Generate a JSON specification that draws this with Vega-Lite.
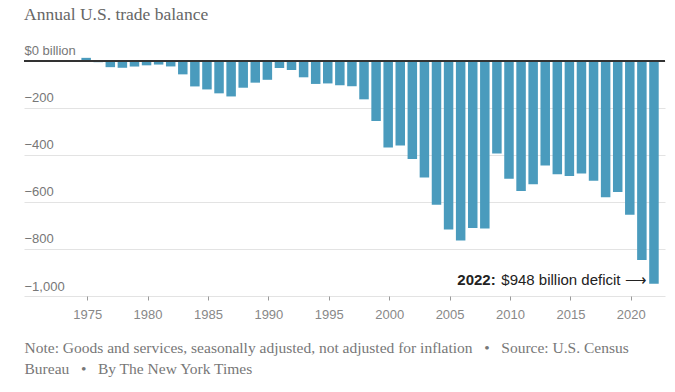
{
  "$schema": "https://vega.github.io/schema/vega-lite/v6.json",
  "width": 641,
  "height": 247,
  "autosize": "none",
  "padding": {"left": 24, "top": 49, "right": 10, "bottom": 96},
  "background": "white",
  "title": {
    "text": "Annual U.S. trade balance",
    "anchor": "start",
    "frame": "group",
    "font": "Liberation Serif",
    "fontSize": 17.5,
    "fontWeight": "normal",
    "color": "#666666",
    "baseline": "bottom",
    "offset": 3
  },
  "config": {"view": {"stroke": null}},
  "data": {
    "values": [
      {"year": 1975, "balance": 12.4},
      {"year": 1976, "balance": -6.1},
      {"year": 1977, "balance": -27.2},
      {"year": 1978, "balance": -29.8},
      {"year": 1979, "balance": -24.6},
      {"year": 1980, "balance": -19.4},
      {"year": 1981, "balance": -16.2},
      {"year": 1982, "balance": -24.2},
      {"year": 1983, "balance": -57.8},
      {"year": 1984, "balance": -109.1},
      {"year": 1985, "balance": -121.9},
      {"year": 1986, "balance": -138.5},
      {"year": 1987, "balance": -151.7},
      {"year": 1988, "balance": -114.6},
      {"year": 1989, "balance": -93.1},
      {"year": 1990, "balance": -80.9},
      {"year": 1991, "balance": -31.1},
      {"year": 1992, "balance": -39.2},
      {"year": 1993, "balance": -70.3},
      {"year": 1994, "balance": -98.5},
      {"year": 1995, "balance": -96.4},
      {"year": 1996, "balance": -104.1},
      {"year": 1997, "balance": -108.3},
      {"year": 1998, "balance": -164},
      {"year": 1999, "balance": -256},
      {"year": 2000, "balance": -369},
      {"year": 2001, "balance": -360},
      {"year": 2002, "balance": -418},
      {"year": 2003, "balance": -496},
      {"year": 2004, "balance": -612},
      {"year": 2005, "balance": -717},
      {"year": 2006, "balance": -764},
      {"year": 2007, "balance": -711},
      {"year": 2008, "balance": -713},
      {"year": 2009, "balance": -394},
      {"year": 2010, "balance": -502},
      {"year": 2011, "balance": -554},
      {"year": 2012, "balance": -525},
      {"year": 2013, "balance": -445},
      {"year": 2014, "balance": -482},
      {"year": 2015, "balance": -490},
      {"year": 2016, "balance": -479},
      {"year": 2017, "balance": -510},
      {"year": 2018, "balance": -580},
      {"year": 2019, "balance": -558},
      {"year": 2020, "balance": -655},
      {"year": 2021, "balance": -847},
      {"year": 2022, "balance": -948}
    ]
  },
  "layer": [
    {
      "mark": {"type": "bar", "width": 9.5, "color": "#4a9bbd"},
      "encoding": {
        "x": {
          "field": "year",
          "type": "quantitative",
          "scale": {"domain": [1970.27, 2022.5], "nice": false, "zero": false},
          "axis": {
            "values": [1975, 1980, 1985, 1990, 1995, 2000, 2005, 2010, 2015, 2020],
            "format": "d",
            "grid": false,
            "domain": false,
            "tickSize": 4,
            "tickColor": "#999999",
            "tickOffset": 1,
            "labelColor": "#888888",
            "labelFont": "Liberation Sans",
            "labelFontSize": 13,
            "labelPadding": 8,
            "title": [
              "Note: Goods and services, seasonally adjusted, not adjusted for inflation \u00a0\u00a0•\u00a0\u00a0 Source: U.S. Census",
              "Bureau \u00a0\u00a0•\u00a0\u00a0 By The New York Times"
            ],
            "titleFont": "Liberation Serif",
            "titleFontSize": 15.5,
            "titleFontWeight": "normal",
            "titleColor": "#777777",
            "titleAnchor": "start",
            "titleAlign": "left",
            "titleBaseline": "top",
            "titleX": 0,
            "titleY": 44,
            "titleLineHeight": 21
          }
        },
        "y": {
          "field": "balance",
          "type": "quantitative",
          "scale": {"domain": [-1000, 50], "nice": false},
          "axis": {
            "values": [0, -200, -400, -600, -800, -1000],
            "labelExpr": "datum.value == 0 ? '$0 billion' : format(datum.value, ',')",
            "grid": true,
            "gridColor": "#e3e3e3",
            "domain": false,
            "ticks": false,
            "labelAlign": "left",
            "labelBaseline": "bottom",
            "labelPadding": 0,
            "labelOffset": -3,
            "labelColor": "#777777",
            "labelFont": "Liberation Sans",
            "labelFontSize": 13,
            "title": null
          }
        }
      }
    },
    {
      "mark": {"type": "rule", "color": "#333333", "strokeWidth": 1.5},
      "encoding": {"y": {"datum": 0}}
    },
    {
      "data": {"values": [{}]},
      "mark": {"type": "text", "align": "right", "baseline": "middle", "font": "Liberation Sans", "fontSize": 15, "color": "#222222", "text": "$948 billion deficit ⟶"},
      "encoding": {"x": {"datum": 2021.4}, "y": {"datum": -932}}
    },
    {
      "data": {"values": [{}]},
      "mark": {"type": "text", "align": "right", "baseline": "middle", "font": "Liberation Sans", "fontSize": 15, "fontWeight": "bold", "color": "#222222", "text": "2022:"},
      "encoding": {"x": {"datum": 2008.9}, "y": {"datum": -932}}
    }
  ]
}
